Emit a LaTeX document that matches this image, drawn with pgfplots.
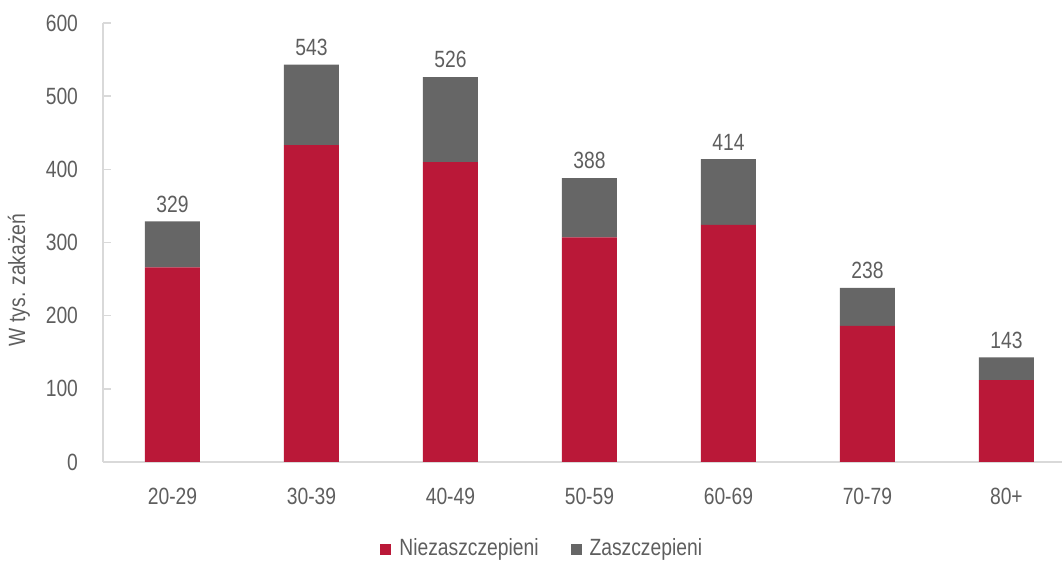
\documentclass[border=0pt]{standalone}
\usepackage{fontspec}
\setmainfont[FakeStretch=0.82]{Liberation Sans}
\usepackage{pgfplots}
\pgfplotsset{compat=1.18}
\definecolor{redbar}{HTML}{BA1838}
\definecolor{graybar}{HTML}{666666}
\definecolor{txt}{HTML}{5E5E5E}
\definecolor{axl}{HTML}{D9D9D9}
\newcommand{\fs}{\fontsize{23.5}{28}\selectfont}
\begin{document}
\fs
\begin{tikzpicture}
\begin{axis}[
  scale only axis, width=959pt, height=439pt,
  xmin=-0.5, xmax=6.4, ymin=0, ymax=600,
  ybar stacked, bar width=55pt,
  stacked ignores zero=false,
  axis x line*=bottom, axis y line*=left,
  axis line style={axl, line width=1.5pt},
  xtick={0,1,2,3,4,5,6},
  xticklabels={20-29,30-39,40-49,50-59,60-69,70-79,80+},
  x tick style={draw=none},
  ytick={0,100,200,300,400,500,600},
  y tick style={axl, line width=1.5pt},
  tick align=inside, major tick length=8pt,
  tick label style={font=\fs, text=txt},
  /pgf/number format/assume math mode=true,
  yticklabel style={xshift=-17pt},
  xticklabel style={yshift=-18pt},
  ylabel={W tys. zakażeń},
  every axis y label/.style={at={([xshift=-84pt]rel axis cs:0,0.415)}, rotate=90, anchor=center, text=txt, font=\fs},
  legend style={at={([yshift=-87pt]rel axis cs:0.458,0)}, anchor=center, legend columns=-1, draw=none, fill=none, font=\fs, text=txt,
    /tikz/every even column/.append style={column sep=30pt},
    /tikz/every odd column/.append style={column sep=6pt}},
  clip=false,
]
\addplot[fill=redbar, draw=none, legend image code/.code={\fill[redbar] (0pt,-5.5pt) rectangle (11pt,5.5pt);}]
  coordinates {(0,266) (1,433) (2,410) (3,307) (4,324) (5,186) (6,112)};
\addlegendentry{Niezaszczepieni}
\addplot[fill=graybar, draw=none, legend image code/.code={\fill[graybar] (0pt,-5.5pt) rectangle (11pt,5.5pt);}]
  coordinates {(0,63) (1,110) (2,116) (3,81) (4,90) (5,52) (6,31)};
\addlegendentry{Zaszczepieni}
\addplot[forget plot, draw=none, fill=none, point meta=explicit, nodes near coords,
  nodes near coords style={text=txt, font=\fs, anchor=south, yshift=1pt}]
  coordinates {(0,0)[329] (1,0)[543] (2,0)[526] (3,0)[388] (4,0)[414] (5,0)[238] (6,0)[143]};
\coordinate (O) at (rel axis cs:0,0);
\end{axis}
\path (O) ++(-103pt,-100pt) rectangle ++(1063pt,562pt);
\end{tikzpicture}
\end{document}
